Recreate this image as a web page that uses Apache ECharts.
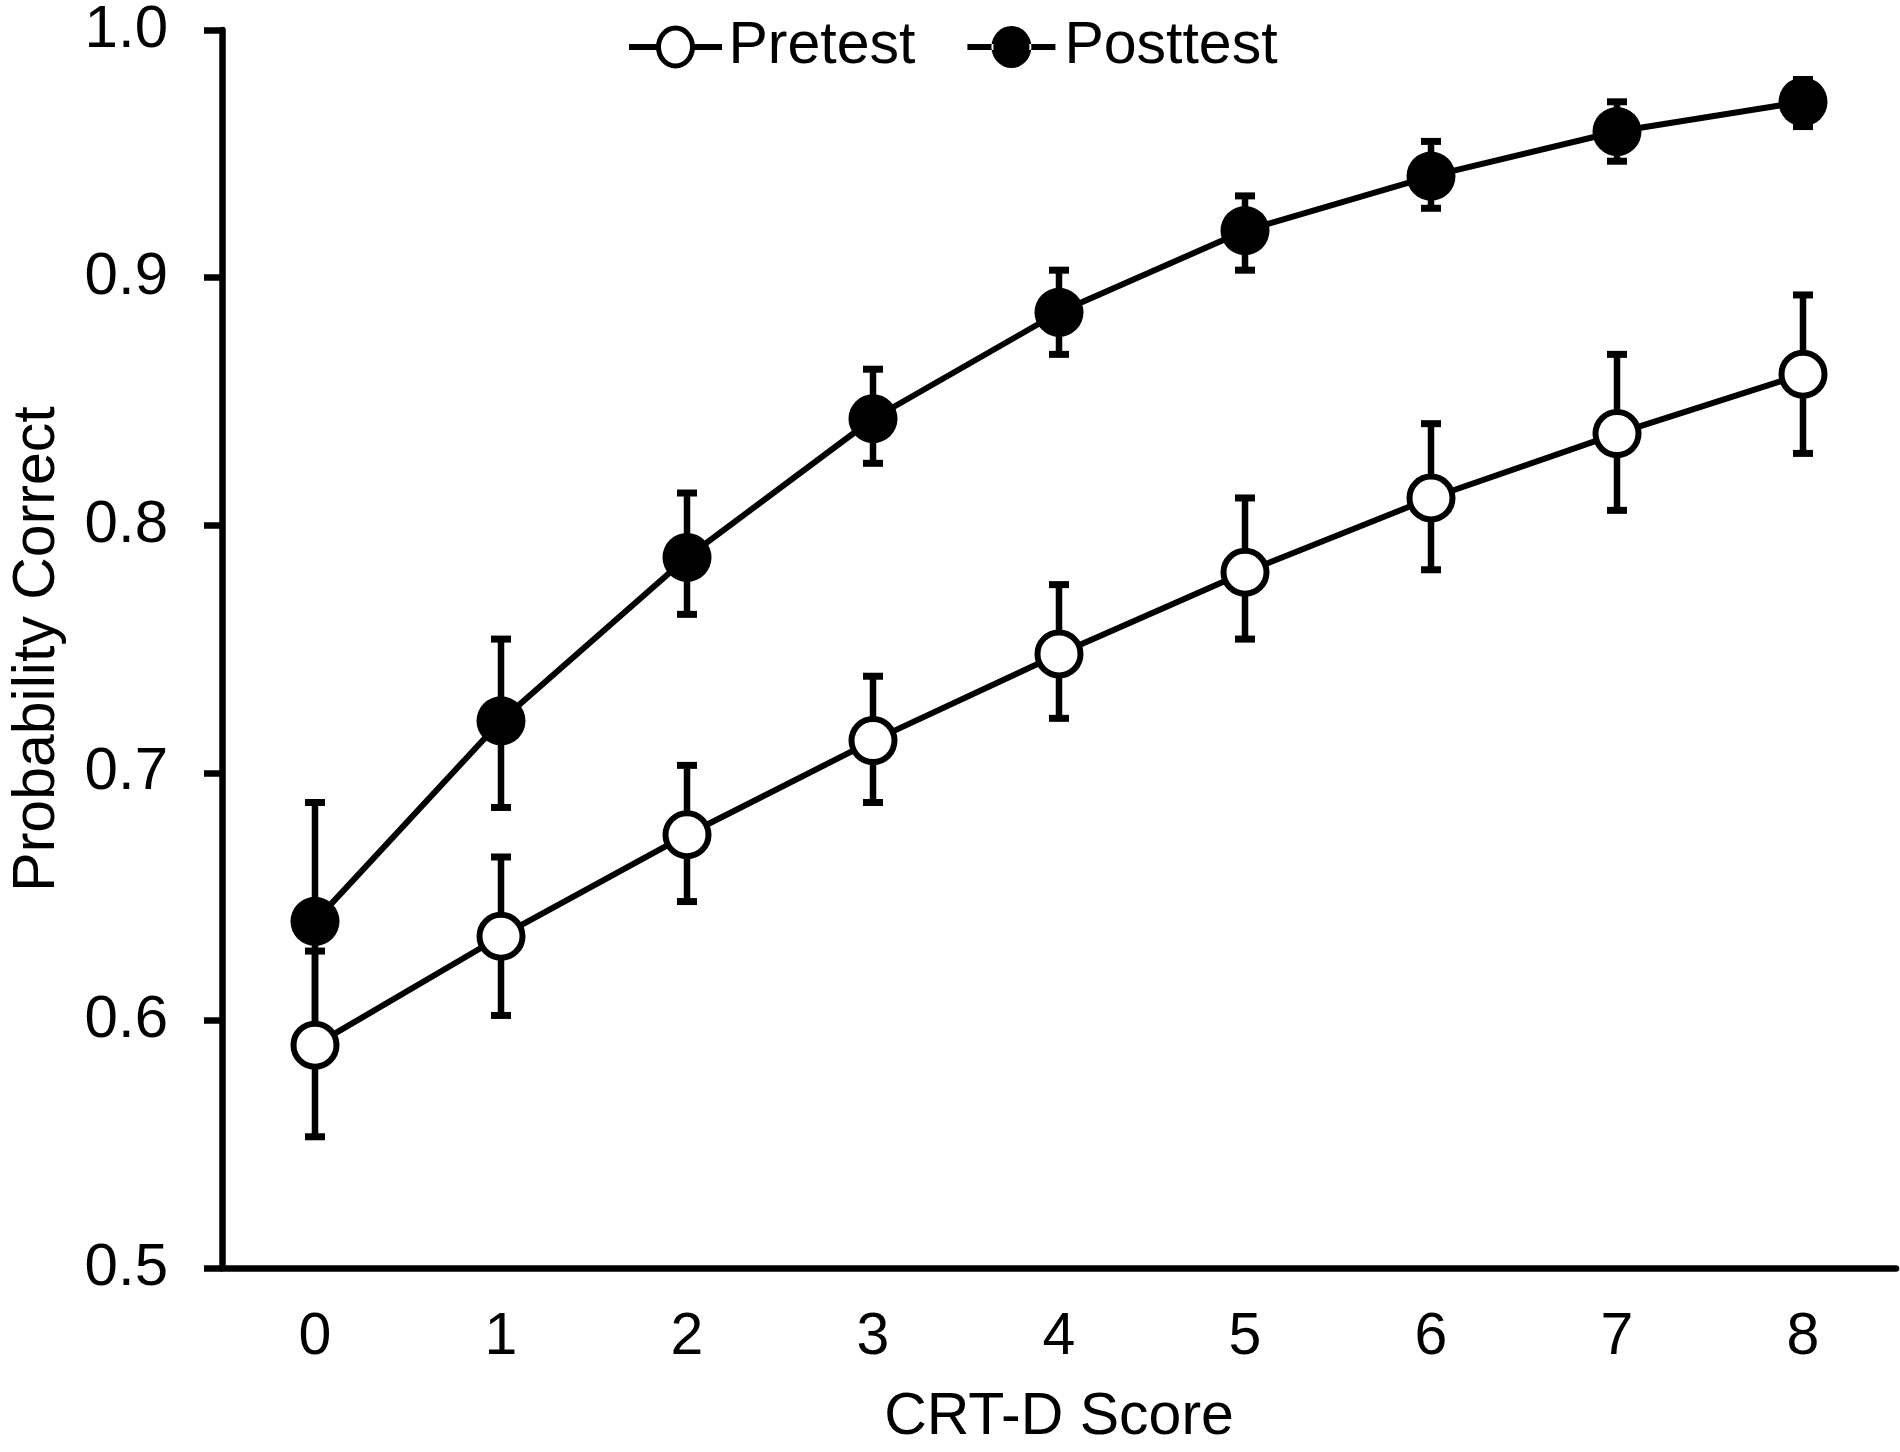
<!DOCTYPE html>
<html>
<head>
<meta charset="utf-8">
<script src="https://cdn.jsdelivr.net/npm/echarts@6/dist/echarts.min.js"></script>
<style>html,body{margin:0;padding:0;background:#fff}#c{width:1900px;height:1452px}</style>
</head>
<body>
<div id="c"></div>
<script>
const categories = ['0','1','2','3','4','5','6','7','8'];
const yTicks = [0.5, 0.6, 0.7, 0.8, 0.9, 1.0];
const pretest     = [0.590, 0.634, 0.675, 0.713, 0.748, 0.781, 0.811, 0.837, 0.861];
const pretestLow  = [0.553, 0.602, 0.648, 0.688, 0.722, 0.754, 0.782, 0.806, 0.829];
const pretestHigh = [0.628, 0.666, 0.703, 0.739, 0.776, 0.811, 0.841, 0.869, 0.893];
const posttest     = [0.640, 0.721, 0.787, 0.843, 0.886, 0.919, 0.941, 0.959, 0.971];
const posttestLow  = [0.595, 0.686, 0.764, 0.825, 0.869, 0.903, 0.928, 0.947, 0.961];
const posttestHigh = [0.688, 0.754, 0.813, 0.863, 0.903, 0.933, 0.955, 0.971, 0.980];

const FONT = "'Liberation Sans', Arial, sans-serif";
const chart = echarts.init(document.getElementById('c'), null, {renderer: 'canvas'});

function errData(low, high) {
  return categories.map((c, i) => [i, low[i], high[i]]);
}
function errRender(params, api) {
  const i = api.value(0);
  const lo = api.coord([i, api.value(1)]);
  const hi = api.coord([i, api.value(2)]);
  const hw = 10;
  const st = {stroke: '#000', lineWidth: 6.5};
  const cap = {stroke: '#000', lineWidth: 7};
  return {
    type: 'group',
    children: [
      {type: 'line', shape: {x1: lo[0], y1: lo[1], x2: hi[0], y2: hi[1]}, style: st},
      {type: 'line', shape: {x1: lo[0] - hw, y1: lo[1], x2: lo[0] + hw, y2: lo[1]}, style: cap},
      {type: 'line', shape: {x1: hi[0] - hw, y1: hi[1], x2: hi[0] + hw, y2: hi[1]}, style: cap}
    ]
  };
}

// legend icons: line + ellipse (open / filled)
const openIcon = 'path://M0 20.5H25V21.5H0Z M63 20.5H88V21.5H63Z M27 21A17 19 0 1 0 61 21A17 19 0 1 0 27 21Z';
const filledIcon = 'path://M0 18H26V24H0Z M62 18H88V24H62Z M24 21A20 21 0 1 0 64 21A20 21 0 1 0 24 21Z';

const option = {
  backgroundColor: '#fff',
  animation: false,
  textStyle: {fontFamily: FONT, color: '#000'},
  grid: {left: 208, right: 4, top: 25, bottom: 175, containLabel: false},
  legend: {
    data: [
      {name: 'Pretest', icon: openIcon, itemStyle: {color: '#fff', borderColor: '#000', borderWidth: 5}},
      {name: 'Posttest', icon: filledIcon, itemStyle: {color: '#000', borderColor: '#000', borderWidth: 0}}
    ],
    left: 624, top: 12,
    itemWidth: 88, itemHeight: 42, itemGap: 52,
    symbolKeepAspect: true,
    textStyle: {fontFamily: FONT, fontSize: 59, lineHeight: 60, color: '#000', padding: [0, 0, 0, 4]}
  },
  xAxis: {
    type: 'category',
    data: categories,
    boundaryGap: true,
    name: 'CRT-D Score',
    nameLocation: 'middle',
    nameGap: 120,
    nameTextStyle: {fontFamily: FONT, fontSize: 59, color: '#000'},
    axisLine: {show: true, lineStyle: {color: '#000', width: 6.5, cap: 'round'}},
    axisTick: {show: false},
    axisLabel: {fontFamily: FONT, fontSize: 59, color: '#000', margin: 40},
    splitLine: {show: false}
  },
  yAxis: {
    type: 'value',
    min: yTicks[0], max: yTicks[yTicks.length - 1], interval: 0.1,
    name: 'Probability Correct',
    nameLocation: 'middle',
    nameGap: 155,
    nameTextStyle: {fontFamily: FONT, fontSize: 59, color: '#000'},
    axisLine: {show: true, lineStyle: {color: '#000', width: 6.5}},
    axisTick: {show: true, length: 18, lineStyle: {color: '#000', width: 6.5}},
    axisLabel: {fontFamily: FONT, fontSize: 60, color: '#000', margin: 54,
      formatter: v => v.toFixed(1)},
    splitLine: {show: false}
  },
  series: [
    {type: 'custom', name: 'preErr', data: errData(pretestLow, pretestHigh), renderItem: errRender, z: 1, silent: true},
    {type: 'custom', name: 'postErr', data: errData(posttestLow, posttestHigh), renderItem: errRender, z: 1, silent: true},
    {
      type: 'line', name: 'Pretest', data: pretest, z: 3,
      symbol: 'circle', symbolSize: 43,
      lineStyle: {color: '#000', width: 6},
      itemStyle: {color: '#fff', borderColor: '#000', borderWidth: 6}
    },
    {
      type: 'line', name: 'Posttest', data: posttest, z: 3,
      symbol: 'circle', symbolSize: 49,
      lineStyle: {color: '#000', width: 6},
      itemStyle: {color: '#000', borderColor: '#000', borderWidth: 0}
    }
  ]
};
chart.setOption(option);
</script>
</body>
</html>
